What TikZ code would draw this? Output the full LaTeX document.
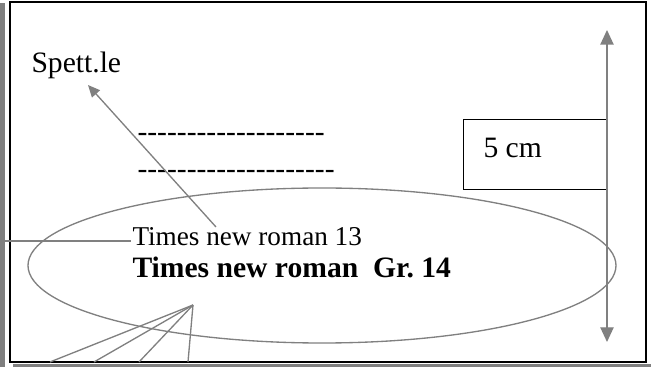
\documentclass[tikz,border=0pt]{standalone}
\usepackage{fontspec}
\setmainfont{Liberation Serif}
\usetikzlibrary{arrows.meta}

\definecolor{lineGray}{RGB}{128,128,128}
\newcommand\hyphenRow[1]{\foreach \k in {1,...,#1}{-\kern0pt}}
\tikzset{every picture/.style={line width=0.75pt}}
\tikzset{
  grayLine/.style={draw=lineGray, line width=1pt},
  spTip/.style={-{Triangle[width=8pt,length=9pt]}},
  dimTips/.style={{Triangle[width=10pt,length=11pt]}-{Triangle[width=10pt,length=11pt]}},
  bigTxt/.style={anchor=base west, inner sep=0.75pt, font=\fontsize{22.2}{26}\selectfont},
  smallTxt/.style={anchor=base west, inner sep=0.75pt, font=\fontsize{20.4}{24}\selectfont}
}

\begin{document}
\begin{tikzpicture}[x=0.75pt,y=0.75pt,yscale=-1,xscale=1]
\useasboundingbox (0,0) rectangle (651,367);

% page shadow and frame
\fill[lineGray] (0,3) rectangle (4.5,367);
\fill[lineGray] (13,364.5) rectangle (651,367);
\draw[line width=1.5pt] (10,2) rectangle (646,362.5);

% Text Node
\node (spett) [bigTxt] at (30,73) {Spett.le};
% Text Node
\node (dashOne) [bigTxt] at (136,142) {\hyphenRow{19}};
% Text Node
\node (dashTwo) [bigTxt] at (136,179) {\hyphenRow{20}};
% Text Node
\node (tnrThirteen) [smallTxt] at (131,246) {Times new roman 13};
% Text Node
\node (tnrBold) [bigTxt, font=\fontsize{22.2}{26}\selectfont\bfseries] at (131,278) {Times new roman~~Gr.\ 14};

% Box with size
\node (cmBox) [draw, line width=1pt, anchor=north west, inner sep=0pt, minimum width=108pt, minimum height=52.5pt] at (463,119) {};
\node (cmTxt) [bigTxt] at (482,158) {5 cm};

% Ellipse
\draw[grayLine] (322,265.5) ellipse [x radius=294, y radius=77.5];

% Arrow to Spett.le
\coordinate (spTail) at (216,227);
\coordinate (spHead) at (88,85);
\draw[grayLine, spTip] (spTail) -- (spHead);

% Stub to the left margin
\coordinate (leftStub) at (4.5,241);
\draw[grayLine] (leftStub) -- (leftStub -| tnrThirteen.west);

% Height arrow
\coordinate (dimTop) at (607,30);
\coordinate (dimBot) at (607,342);
\draw[grayLine, dimTips] (dimTop) -- (dimBot);

% Fan to the bottom edge
\coordinate (fanTop) at (193,305);
\foreach \bx [count=\i] in {50,94,139,188} {
  \coordinate (fan\i) at (\bx,362);
  \draw[grayLine] (fanTop) -- (fan\i);
}

\end{tikzpicture}
\end{document}
